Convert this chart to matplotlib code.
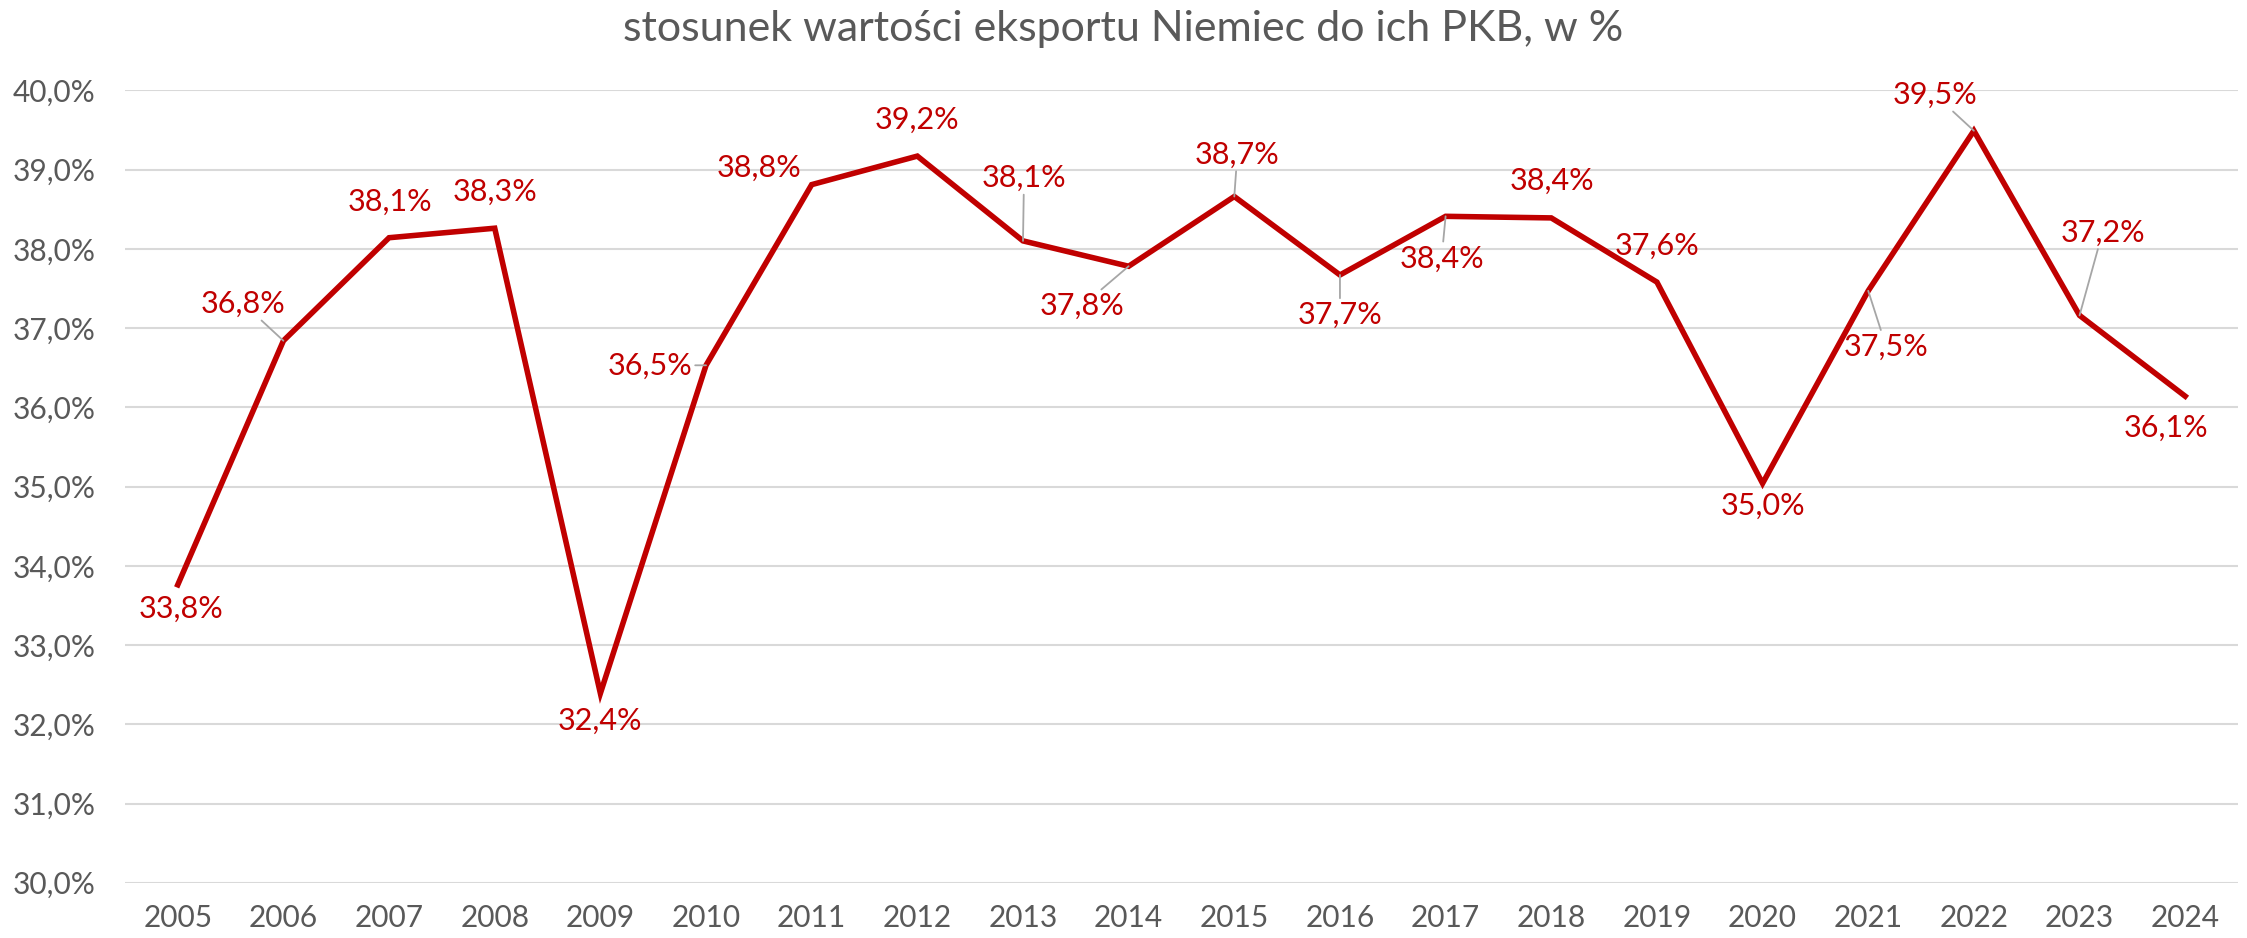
import matplotlib
matplotlib.use('Agg')
import matplotlib.pyplot as plt
from matplotlib.ticker import FuncFormatter

plt.rcParams['font.family'] = ['Lato', 'DejaVu Sans']

years = [str(y) for y in range(2005, 2025)]
share = [33.76, 36.84, 38.14, 38.26, 32.39, 36.53, 38.81, 39.17, 38.10, 37.78,
         38.66, 37.67, 38.41, 38.39, 37.58, 35.04, 37.47, 39.49, 37.16, 36.14]

# label offsets in pixels (dx, dy) and whether a leader line is drawn
offsets = [(3, -24), (-40, 37), (1, 36), (0, 36), (0, -27), (-56, 0), (-53, 17),
           (0, 36), (1, 63), (-47, -40), (3, 42), (0, -40), (-4, -42), (1, 37),
           (0, 36), (0, -22), (18, -56), (-39, 36), (23, 83), (-19, -32)]
leaders = [False, True, False, False, False, True, False, False, True, True,
           True, True, True, False, False, False, True, True, True, False]

red = '#C00000'
grey = '#595959'

fig = plt.figure(figsize=(22.47, 9.38), dpi=100)
ax = fig.add_axes([0.0556, 0.0589, 0.9404, 0.8448])

x = list(range(len(years)))
ax.plot(x, share, color=red, lw=4, solid_joinstyle='miter', zorder=3)

for xi, v, (dx, dy), lead in zip(x, share, offsets, leaders):
    lab = ('%.1f%%' % v).replace('.', ',')
    kw = {}
    if lead:
        kw['arrowprops'] = dict(arrowstyle='-', color='#A6A6A6', lw=1.3, shrinkA=0, shrinkB=0)
    ax.annotate(lab, (xi, v), xytext=(dx, dy), textcoords='offset pixels',
                ha='center', va='center', color=red, fontsize=22, zorder=4, **kw)

ax.set_xlim(-0.5, len(years) - 0.5)
ax.set_ylim(30, 40)
ax.set_yticks(range(30, 41))
ax.yaxis.set_major_formatter(FuncFormatter(lambda v, p: ('%.1f%%' % v).replace('.', ',')))
ax.set_xticks(x)
ax.set_xticklabels(years)
ax.tick_params(axis='both', length=0, colors=grey, labelsize=21.5)
ax.tick_params(axis='y', pad=21)
ax.tick_params(axis='x', pad=15)
ax.grid(axis='y', color='#D9D9D9', lw=1.5, zorder=0)
for s in ax.spines.values():
    s.set_visible(False)

fig.text(0.5, 0.969, 'stosunek wartości eksportu Niemiec do ich PKB, w %',
         ha='center', va='center', color=grey, fontsize=31)

fig.savefig('out.png', dpi=100)
